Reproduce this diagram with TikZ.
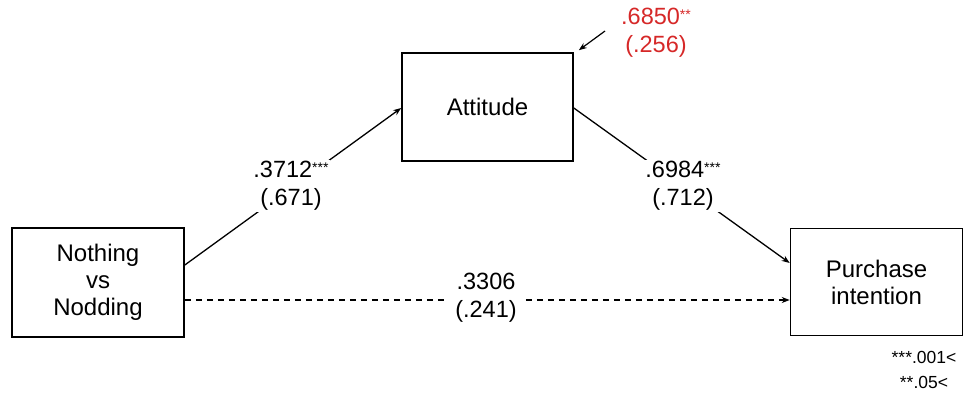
\documentclass[tikz,border=0pt]{standalone}
\usepackage{fontspec}
\setmainfont{Liberation Sans}
\usetikzlibrary{arrows.meta,calc}
\definecolor{labred}{RGB}{214,40,40}
\tikzset{
  box/.style={draw, line width=1.6pt, align=center, inner sep=0pt,
    font=\fontsize{24}{27}\selectfont},
  conn/.style={line width=1.3pt, -{Stealth[length=8pt,width=6pt]}},
  lab/.style={align=center, inner sep=1pt, fill=white, font=\fontsize{23.5}{28}\selectfont},
  note/.style={align=center, inner sep=0pt, font=\fontsize{17.5}{25}\selectfont},
}
\newcommand{\stars}[1]{\raisebox{0.45ex}{\fontsize{14}{14}\selectfont #1}}
\begin{document}
\begin{tikzpicture}[x=1pt,y=-1pt]
\useasboundingbox (0,0) rectangle (971,397);
\node[box, minimum width=171pt, minimum height=108pt] (att) at (487.5,107) {Attitude};
\node[box, minimum width=172pt, minimum height=109pt] (nv) at (98,282.5) {Nothing\\vs\\Nodding};
\node[box, minimum width=172pt, minimum height=107pt] (pi) at (876.5,282) {Purchase\\intention};

\draw[conn] ([yshift=17.5pt]nv.east) -- ([yshift=-1pt]att.west);
\draw[conn] ([yshift=-1pt]att.east) -- ([yshift=19pt]pi.west);
\draw[conn, dashed, dash pattern=on 6pt off 5pt] ([yshift=-17.5pt]nv.east) -- ([yshift=-18pt]pi.west);

\coordinate (rs) at (605,31);
\draw[conn, line width=1.2pt] (rs) -- ([xshift=5pt,yshift=2pt]att.north east);

\node[lab] (l1) at (291,186) {.3712\stars{***}\\(.671)};
\node[lab] (l2) at (683,186) {.6984\stars{***}\\(.712)};
\node[lab, inner xsep=8pt] (l3) at (486,298) {.3306\\(.241)};
\node[lab, fill=none, text=labred] (l4) at (656,33) {.6850\stars{**}\\(.256)};
\node[note] (n1) at (924,370) {***.001<\\**.05<};
\end{tikzpicture}
\end{document}
